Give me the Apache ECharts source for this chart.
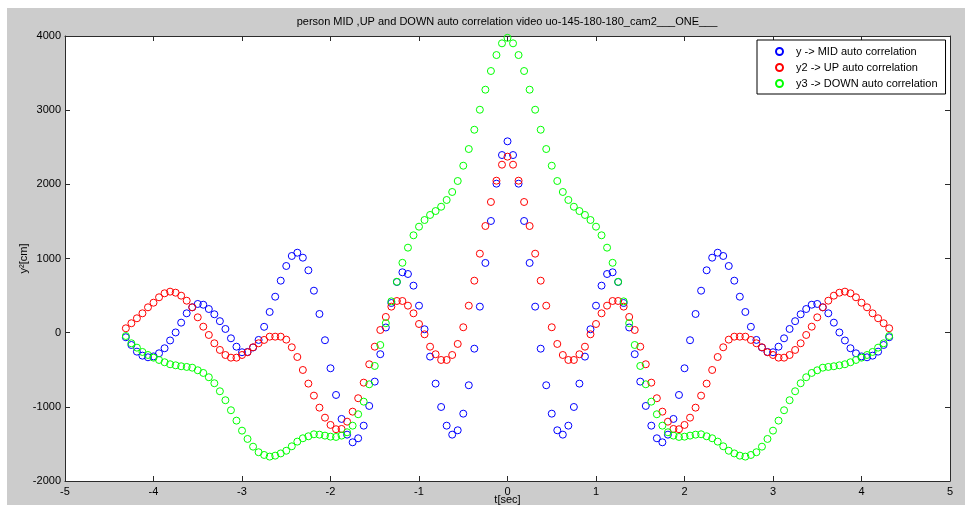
<!DOCTYPE html>
<html>
<head>
<meta charset="utf-8">
<script src="https://cdn.jsdelivr.net/npm/echarts@6/dist/echarts.min.js"></script>
<style>
  html, body { margin: 0; padding: 0; background: #ffffff; overflow: hidden; }
  #c { position: absolute; left: 7px; top: 8px; width: 958px; height: 497px; }
</style>
</head>
<body>
<div id="c"></div>
<script>
// Sampling rate of the video (frames per second); lag k corresponds to t = k / FPS.
const FPS = 16;
const MAX_LAG = 69;

// Autocorrelation values for lags 0..69 (the function is even in lag,
// so negative lags reuse the same values).
const midLag = [
  2580, 2395, 2009, 1506, 940, 351, -216, -709, -1092, -1316,
  -1375, -1254, -1002, -687, -323, 46, 364, 634, 791, 814,
  683, 400, 70, -290, -660, -988, -1254, -1424, -1478, -1375,
  -1163, -840, -480, -102, 252, 566, 841, 1011, 1078, 1034,
  899, 701, 485, 279, 79, -98, -200, -260, -264, -189,
  -76, 50, 155, 248, 319, 377, 387, 342, 261, 135,
  3, -105, -210, -278, -320, -332, -310, -256, -166, -62
];
const upLag = [
  2373, 2265, 2049, 1762, 1438, 1065, 701, 364, 73, -152,
  -301, -368, -368, -291, -189, -22, 117, 261, 364, 427,
  427, 351, 212, 36, -189, -426, -674, -884, -1065, -1200,
  -1298, -1302, -1244, -1146, -1011, -849, -687, -503, -328, -197,
  -94, -54, -54, -54, -98, -143, -197, -264, -301, -337,
  -337, -301, -233, -143, -31, 81, 207, 342, 431, 499,
  539, 553, 531, 477, 404, 342, 261, 194, 127, 59
];
const downLag = [
  3975, 3901, 3743, 3528, 3276, 3006, 2736, 2476, 2251, 2045,
  1897, 1789, 1698, 1640, 1587, 1519, 1429, 1313, 1146, 942,
  686, 422, 128, -166, -449, -696, -930, -1100, -1254, -1343,
  -1388, -1406, -1402, -1388, -1375, -1370, -1397, -1424, -1469, -1532,
  -1592, -1628, -1658, -1671, -1649, -1612, -1537, -1433, -1321, -1186,
  -1046, -911, -790, -682, -601, -543, -507, -472, -462, -453,
  -440, -426, -399, -368, -337, -301, -260, -202, -143, -45
];

const seriesNames = [
  'y -> MID auto correlation',
  'y2 -> UP auto correlation',
  'y3 -> DOWN auto correlation'
];
const seriesColors = ['#0000ff', '#ff0000', '#00ff00'];

const titleText = 'person MID ,UP and DOWN auto correlation video uo-145-180-180_cam2___ONE___';
const xName = 't[sec]';
const yName = 'y\u00b2[cm]';

// Build [t, value] pairs over lags -MAX_LAG..MAX_LAG.
function toPoints(halfValues) {
  const pts = [];
  for (let k = -MAX_LAG; k <= MAX_LAG; k++) {
    pts.push([k / FPS, halfValues[Math.abs(k)]]);
  }
  return pts;
}

const FONT = 'Liberation Sans, Arial, sans-serif';
const AXIS_COLOR = '#2b2b2b';
const plain = v => String(v);

const chart = echarts.init(document.getElementById('c'));

const baseAxisLine = { show: true, onZero: false, lineStyle: { color: AXIS_COLOR, width: 1 } };
const baseTick = { show: true, inside: true, length: 5, lineStyle: { color: AXIS_COLOR, width: 1 } };

chart.setOption({
  backgroundColor: '#cccccc',
  animation: false,
  title: {
    text: titleText,
    left: 500,
    top: 8,
    padding: 0,
    textAlign: 'center',
    textStyle: { fontSize: 11, fontWeight: 'normal', color: '#000', fontFamily: FONT }
  },
  grid: {
    left: 58, top: 28, width: 885, height: 445,
    outerBoundsMode: 'none',
    containLabel: false,
    show: true, backgroundColor: '#ffffff', borderWidth: 0
  },
  legend: {
    orient: 'vertical',
    left: 750,
    top: 32,
    backgroundColor: '#ffffff',
    borderColor: '#000000',
    borderWidth: 1,
    borderRadius: 0,
    padding: [5, 8, 4, 18],
    itemGap: 3,
    itemWidth: 7,
    itemHeight: 7,
    textStyle: { fontSize: 11, color: '#000', fontFamily: FONT, lineHeight: 13, padding: [0, 0, 0, 8] },
    data: seriesNames
  },
  xAxis: [
    {
      type: 'value', min: -5, max: 5, interval: 1, position: 'bottom',
      axisLine: baseAxisLine, axisTick: baseTick,
      axisLabel: { color: '#000', fontSize: 11, fontFamily: FONT, margin: 5, formatter: plain },
      splitLine: { show: false },
      name: xName, nameLocation: 'middle', nameGap: 13, nameMoveOverlap: false,
      nameTextStyle: { color: '#000', fontSize: 11, fontFamily: FONT }
    },
    {
      type: 'value', min: -5, max: 5, interval: 1, position: 'top',
      axisLine: baseAxisLine, axisTick: baseTick,
      axisLabel: { show: false }, splitLine: { show: false }
    }
  ],
  yAxis: [
    {
      type: 'value', min: -2000, max: 4000, interval: 1000, position: 'left',
      axisLine: baseAxisLine, axisTick: baseTick,
      axisLabel: { color: '#000', fontSize: 11, fontFamily: FONT, margin: 4, formatter: plain },
      splitLine: { show: false },
      name: yName, nameLocation: 'middle', nameGap: 36, nameRotate: 90, nameMoveOverlap: false,
      nameTextStyle: { color: '#000', fontSize: 11, fontFamily: FONT }
    },
    {
      type: 'value', min: -2000, max: 4000, interval: 1000, position: 'right',
      axisLine: baseAxisLine, axisTick: baseTick,
      axisLabel: { show: false }, splitLine: { show: false }
    }
  ],
  series: [midLag, upLag, downLag].map((vals, i) => ({
    name: seriesNames[i],
    type: 'scatter',
    symbol: 'circle',
    symbolSize: 7,
    data: toPoints(vals),
    itemStyle: { color: 'rgba(255,255,255,0)', borderColor: seriesColors[i], borderWidth: 1, opacity: 1 },
    emphasis: { disabled: true }
  }))
});
</script>
</body>
</html>
